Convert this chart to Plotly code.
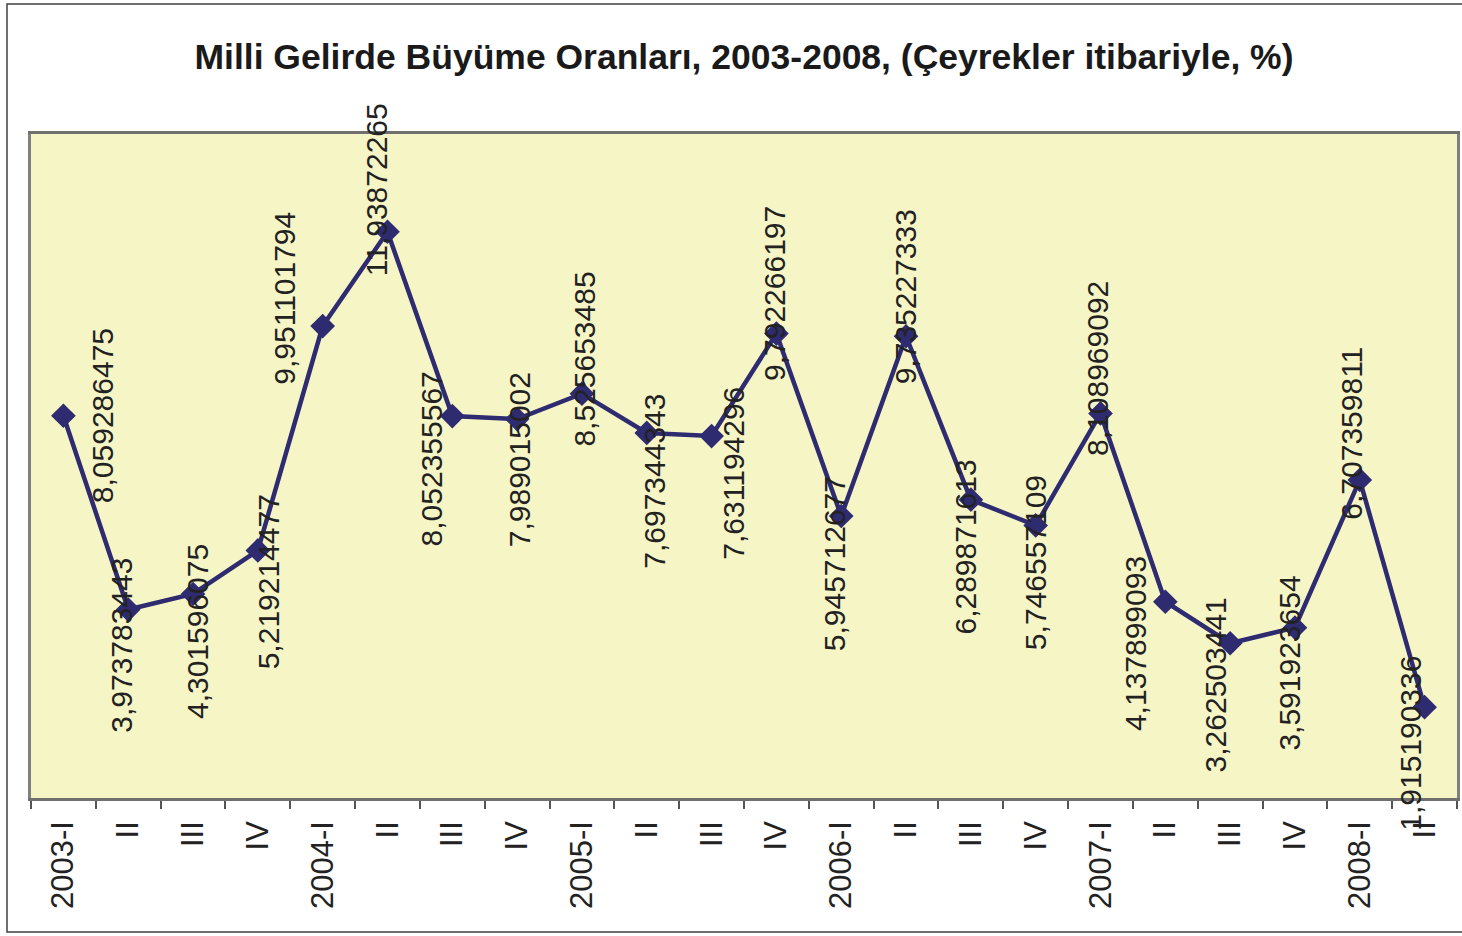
import plotly.graph_objects as go

categories = ["2003-I", "II", "III", "IV",
              "2004-I", "II ", "III ", "IV ",
              "2005-I", "II  ", "III  ", "IV  ",
              "2006-I", "II   ", "III   ", "IV   ",
              "2007-I", "II    ", "III    ", "IV    ",
              "2008-I", "II     "]
tick_text = ["2003-I", "II", "III", "IV", "2004-I", "II", "III", "IV",
             "2005-I", "II", "III", "IV", "2006-I", "II", "III", "IV",
             "2007-I", "II", "III", "IV", "2008-I", "II"]
growth = [8.059286475, 3.973783443, 4.301596075, 5.219214477,
          9.951101794, 11.93872265, 8.052355567, 7.989015002,
          8.525653485, 7.697344343, 7.631194296, 9.792266197,
          5.945712677, 9.735227333, 6.289871613, 5.746557109,
          8.108969092, 4.137899093, 3.262503441, 3.591923654,
          6.707359811, 1.915190336]
label_text = ["8,059286475", "3,973783443", "4,301596075", "5,219214477",
              "9,951101794", "11,93872265", "8,052355567", "7,989015002",
              "8,525653485", "7,697344343", "7,631194296", "9,792266197",
              "5,945712677", "9,735227333", "6,289871613", "5,746557109",
              "8,108969092", "4,137899093", "3,262503441", "3,591923654",
              "6,707359811", "1,915190336"]

# label offsets in pixels (dx right, dy down) relative to each marker
label_dx = [39, -7, 5, 11, -39, -11, -21, 2, 3, 8, 21, -2, -7, -1, -5, 0, -3, -30, -15, -5, -8, -14]
label_dy = [0, 36, 38, 31, -28, -42, 43, 41, -35, 48, 37, -40, 48, -39, 47, 37, -45, 42, 42, 35, -47, 36]

W, H = 1462, 936
L, R, T, B = 31, 1457, 134, 798

navy = "#2E2B70"
fig = go.Figure()
fig.add_trace(go.Scatter(
    x=categories, y=growth, mode="lines+markers",
    line=dict(color=navy, width=4.5),
    marker=dict(symbol="diamond", size=19, color=navy),
    hoverinfo="x+y", showlegend=False,
))

for c, v, t, dx, dy in zip(categories, growth, label_text, label_dx, label_dy):
    fig.add_annotation(x=c, y=v, text=t, showarrow=False, textangle=-90,
                       xshift=dx, yshift=-dy,
                       font=dict(family="Liberation Sans, Arial", size=30, color="#222222"))

pw, ph = R - L, B - T
fig.add_shape(type="rect", xref="paper", yref="paper",
              x0=(7 - L) / pw, x1=(1475 - L) / pw,
              y0=(B - 932) / ph, y1=(B - 4) / ph,
              line=dict(color="#404040", width=1.5), fillcolor="rgba(0,0,0,0)", layer="below")

fig.update_layout(
    width=W, height=H,
    margin=dict(l=L, r=W - R, t=T, b=H - B, autoexpand=False),
    paper_bgcolor="white",
    plot_bgcolor="#F6F5C6",
    title=dict(text="<b>Milli Gelirde Büyüme Oranları, 2003-2008, (Çeyrekler itibariyle, %)</b>",
               x=0.5, xref="paper", y=1 - 57 / H, yref="container", yanchor="middle",
               font=dict(family="Liberation Sans, Arial", size=35.5, color="#1a1a1a")),
    xaxis=dict(type="category", tickmode="array", tickvals=categories, ticktext=tick_text,
               range=[-0.5, len(categories) - 0.5], autorange=False,
               tickangle=-90, tickson="boundaries", ticks="outside", ticklen=8,
               tickcolor="#555555", tickwidth=1.5, ticklabelstandoff=8,
               showline=True, linecolor="#707070", linewidth=2.5, mirror=True,
               showgrid=False, zeroline=False,
               tickfont=dict(family="Liberation Sans, Arial", size=31, color="#222222")),
    yaxis=dict(range=[0, 14], showticklabels=False, ticks="", showgrid=False, zeroline=False,
               showline=True, linecolor="#808080", linewidth=2.5, mirror=True),
)

fig.write_html("out.html", config={"displayModeBar": False},
               post_script="document.body.style.margin='0';")
